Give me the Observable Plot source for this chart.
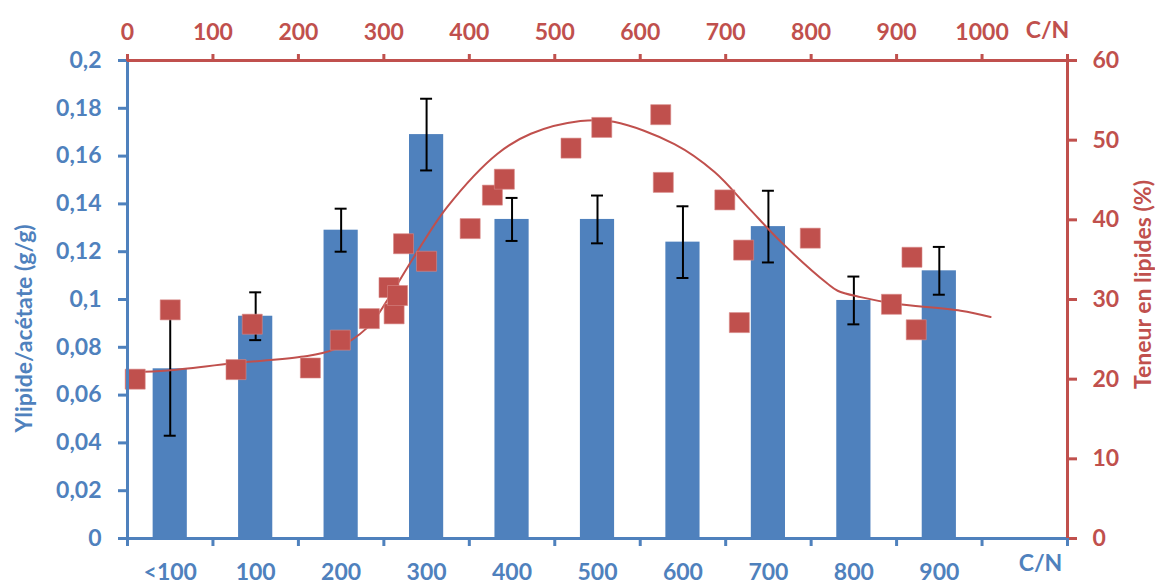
<!DOCTYPE html>
<html>
<head>
<meta charset="utf-8">
<script src="https://cdn.jsdelivr.net/npm/d3@7"></script>
<script src="https://cdn.jsdelivr.net/npm/@observablehq/plot@0.6"></script>
<style>
  html, body { margin: 0; padding: 0; background: #fff; }
  #chart svg { display: block; }
</style>
</head>
<body>
<div id="chart"></div>
<script>
// ---- data ----
const categories = ["<100", "100", "200", "300", "400", "500", "600", "700", "800", "900"];
const yieldMean = [0.071, 0.093, 0.129, 0.169, 0.1335, 0.1335, 0.124, 0.1305, 0.0996, 0.112];
const yieldErr  = [0.028, 0.010, 0.009, 0.015, 0.009, 0.010, 0.015, 0.015, 0.010, 0.010];

const pointCN  = [9, 50, 127, 146, 214, 249, 283, 306, 312, 316, 323, 350, 401, 427, 441, 519, 555, 624, 627, 699, 716, 721, 799, 894, 918, 923];
const pointPct = [20.0, 28.7, 21.2, 26.9, 21.4, 24.9, 27.6, 31.5, 28.2, 30.5, 37.0, 34.8, 38.9, 43.1, 45.1, 49.0, 51.6, 53.2, 44.7, 42.5, 27.1, 36.2, 37.7, 29.4, 35.3, 26.2];

const curveCN  = [7, 47, 124, 203, 241, 281, 304, 335, 374, 433, 472, 530, 569, 640, 687, 726, 765, 819, 831, 858, 897, 975, 1010];
const curvePct = [20.9, 21.1, 22.0, 22.8, 23.7, 26.5, 29.9, 35.3, 41.6, 48.3, 50.8, 52.4, 52.3, 49.5, 46.0, 41.6, 37.2, 32.0, 31.1, 30.3, 29.5, 28.6, 27.8];

const leftTicks  = [0, 0.02, 0.04, 0.06, 0.08, 0.1, 0.12, 0.14, 0.16, 0.18, 0.2];
const rightTicks = [0, 10, 20, 30, 40, 50, 60];
const topTicks   = [0, 100, 200, 300, 400, 500, 600, 700, 800, 900, 1000, 1100];

const leftTitle  = "Ylipide/acétate (g/g)";
const rightTitle = "Teneur en lipides (%)";
const cnLabel    = "C/N";

// ---- derived tables ----
const BLUE = "#4F81BD", RED = "#C0504D";
const FS = 23;
const BAND = 100;                 // each category spans 100 C/N units
const pctToY = p => p / 300;      // right axis (0–60 %) onto left axis (0–0.2)

const bars = categories.map((c, i) => ({
  cat: c, center: i * BAND + BAND / 2, mean: yieldMean[i], err: yieldErr[i]
}));
const points = pointCN.map((x, i) => ({ x, y: pctToY(pointPct[i]) }));
const curve  = curveCN.map((x, i) => ({ x, y: pctToY(curvePct[i]) }));

const comma = v => String(+v.toFixed(4)).replace(".", ",");

const chart = Plot.plot({
  width: 1155,
  height: 584,
  marginLeft: 127,
  marginRight: 88,
  marginTop: 60,
  marginBottom: 46,
  style: { fontFamily: "Lato, 'Open Sans', sans-serif", fontSize: FS + "px", fontWeight: "bold", background: "#fff" },
  x: { domain: [0, 1100] },
  y: { domain: [0, 0.2] },
  marks: [
    // bars
    Plot.rectY(bars, { x1: d => d.center - 20, x2: d => d.center + 20, y1: 0, y2: "mean", fill: BLUE }),
    // error bars
    Plot.ruleX(bars, { x: "center", y1: d => d.mean - d.err, y2: d => d.mean + d.err, stroke: "#000", strokeWidth: 2 }),
    Plot.ruleY(bars, { y: d => d.mean + d.err, x1: d => d.center - 7, x2: d => d.center + 7, stroke: "#000", strokeWidth: 2 }),
    Plot.ruleY(bars, { y: d => d.mean - d.err, x1: d => d.center - 7, x2: d => d.center + 7, stroke: "#000", strokeWidth: 2 }),
    // smooth curve
    Plot.line(curve, { x: "x", y: "y", curve: "catmull-rom", stroke: RED, strokeWidth: 2 }),
    // squares
    Plot.dot(points, { x: "x", y: "y", symbol: "square", r: 11.3, fill: RED, stroke: "#d88a88", strokeWidth: 0.6 }),
    // axis lines
    Plot.ruleY([0], { stroke: BLUE, strokeWidth: 3 }),
    Plot.ruleX([0], { stroke: BLUE, strokeWidth: 3 }),
    Plot.ruleY([0.2], { stroke: RED, strokeWidth: 3 }),
    Plot.ruleX([1100], { stroke: RED, strokeWidth: 3 }),
    // left axis
    Plot.axisY({ anchor: "left", ticks: leftTicks, tickFormat: comma, color: BLUE, tickSize: 9, tickPadding: 17, strokeWidth: 3, fontSize: FS, label: null }),
    // right axis (percent)
    Plot.axisY({ anchor: "right", ticks: rightTicks.map(pctToY), tickFormat: v => String(Math.round(v * 300)), color: RED, tickSize: 9, tickPadding: 16, strokeWidth: 3, fontSize: FS, label: null }),
    // top axis (C/N)
    Plot.axisX({ anchor: "top", ticks: topTicks, tickFormat: v => v > 1000 ? "" : String(v), color: RED, tickSize: 7, tickPadding: 14, strokeWidth: 3, fontSize: FS, label: null }),
    // bottom axis: ticks at band boundaries, labels at band centers
    Plot.axisX({ anchor: "bottom", ticks: topTicks, tickFormat: () => "", color: BLUE, tickSize: 8, strokeWidth: 3, label: null }),
    Plot.axisX({ anchor: "bottom", ticks: bars.map(d => d.center), tickFormat: (v, i) => categories[i], color: BLUE, tickSize: 0, tickPadding: 25, fontSize: FS, label: null }),
    // titles
    Plot.text([leftTitle], { frameAnchor: "left", textAnchor: "middle", lineAnchor: "middle", dx: -103, dy: 29, rotate: -90, fill: BLUE, fontSize: FS, fontWeight: "bold" }),
    Plot.text([rightTitle], { frameAnchor: "right", textAnchor: "middle", lineAnchor: "middle", dx: 76, dy: -15, rotate: -90, fill: RED, fontSize: FS, fontWeight: "bold" }),
    Plot.text([cnLabel], { frameAnchor: "top-right", textAnchor: "middle", lineAnchor: "middle", dx: -20, dy: -30, fill: RED, fontSize: FS, fontWeight: "bold" }),
    Plot.text([cnLabel], { frameAnchor: "bottom-right", textAnchor: "middle", lineAnchor: "middle", dx: -27, dy: 25, fill: BLUE, fontSize: FS, fontWeight: "bold" })
  ]
});
document.getElementById("chart").appendChild(chart);
</script>
</body>
</html>
